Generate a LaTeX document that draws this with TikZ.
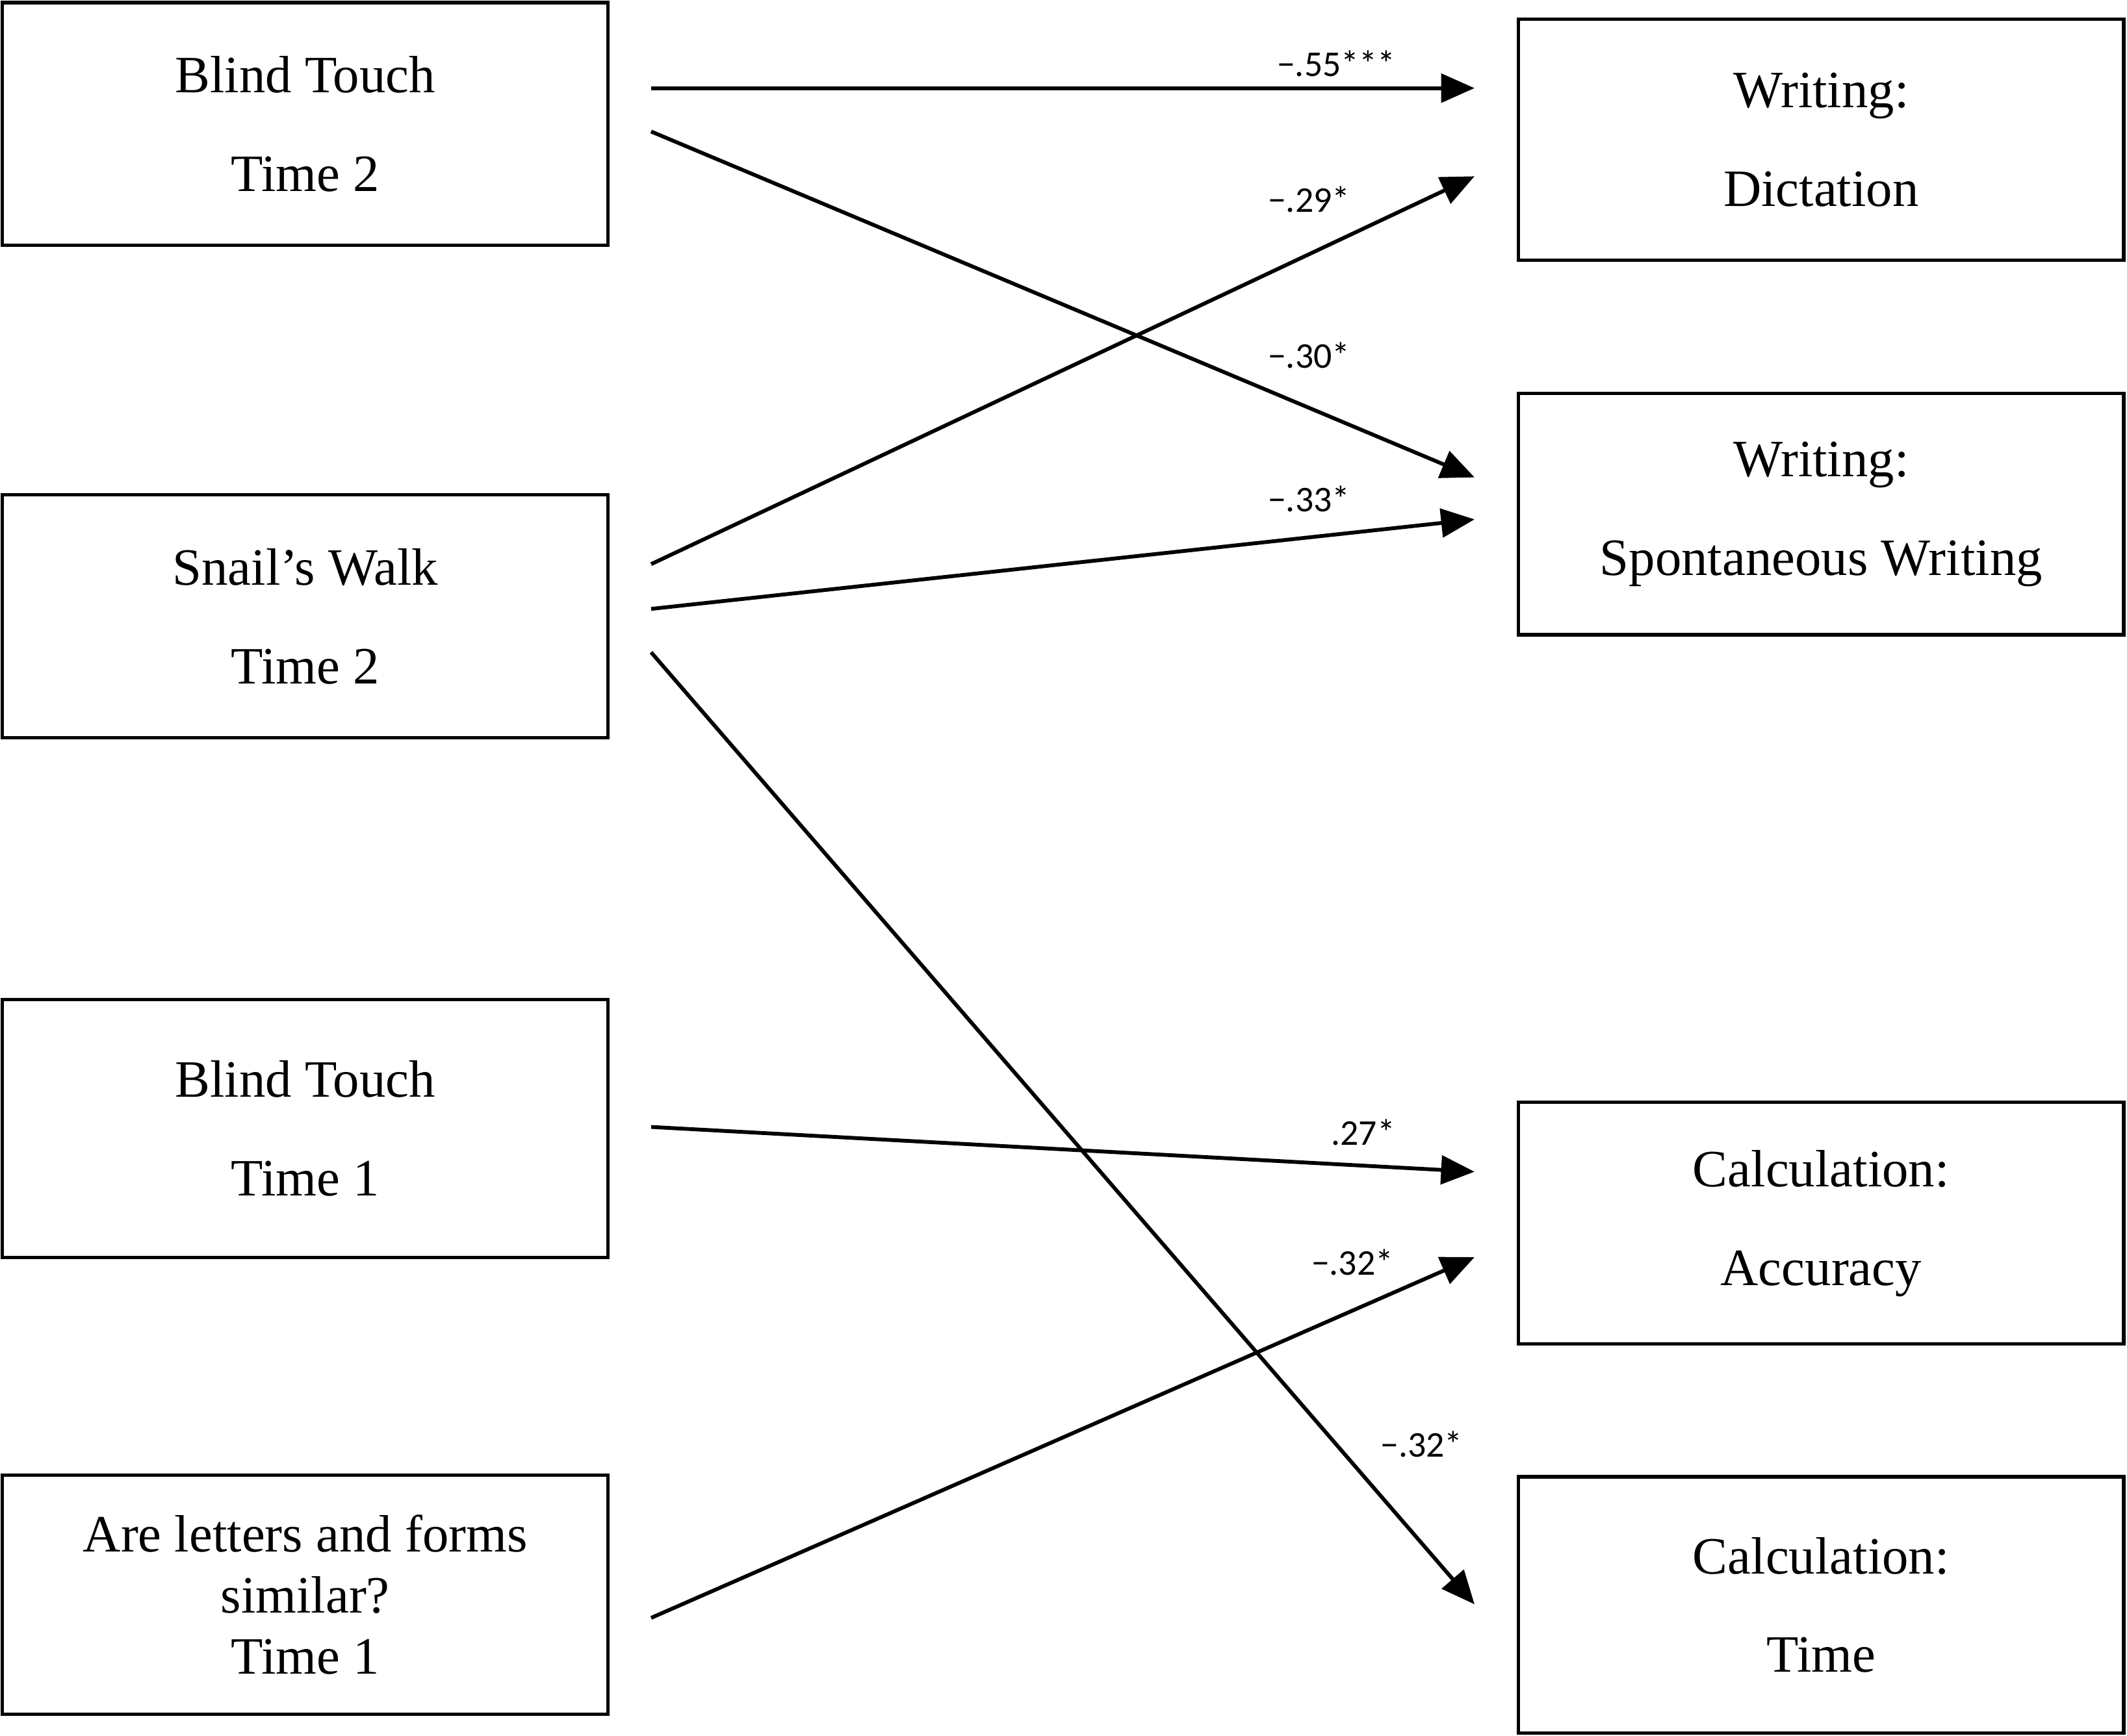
\documentclass[tikz,border=0pt]{standalone}
\usepackage{fontspec}
\setmainfont{Liberation Serif}
\newfontfamily\labfont{Carlito}
\usetikzlibrary{arrows.meta}
\begin{document}
\begin{tikzpicture}[x=0.01cm,y=-0.01cm,
  box/.style={draw, line width=0.7pt, minimum width=4.46cm, align=center,
    font=\fontsize{11}{20.7}\selectfont},
  path/.style={line width=0.8pt, -{Triangle[length=7pt,width=6pt]}},
  coef/.style={font=\labfont\fontsize{7.6}{9}\selectfont}]
\useasboundingbox (0,0) rectangle (1568,1280);
% predictors
\node[box, minimum height=1.79cm] (bt2) at (225,91.5) {Blind Touch\\Time 2};
\node[box, minimum height=1.79cm] (sw2) at (225,454.5) {Snail's Walk\\Time 2};
\node[box, minimum height=1.9cm] (bt1) at (225,832) {Blind Touch\\Time 1};
\node[box, minimum height=1.76cm, font=\fontsize{11}{12.8}\selectfont] (lf1) at (225,1176) {Are letters and forms\\similar?\\Time 1};
% outcomes
\node[box, minimum height=1.78cm] (dic) at (1342.5,103) {Writing:\\Dictation};
\node[box, minimum height=1.78cm] (spo) at (1342.5,379) {Writing:\\Spontaneous Writing};
\node[box, minimum height=1.78cm] (acc) at (1342.5,902) {Calculation:\\Accuracy};
\node[box, minimum height=1.89cm] (tim) at (1342.5,1183.5) {Calculation:\\Time};
% path end points
\coordinate (a1) at (480,65);   \coordinate (b1) at (1087,65);
\coordinate (a2) at (480,97);   \coordinate (b2) at (1087,352);
\coordinate (a3) at (480,416);  \coordinate (b3) at (1087,130);
\coordinate (a4) at (480,449);  \coordinate (b4) at (1087,383);
\coordinate (a5) at (480,481);  \coordinate (b5) at (1087,1183);
\coordinate (a6) at (480,831);  \coordinate (b6) at (1087,864);
\coordinate (a7) at (480,1193); \coordinate (b7) at (1087,927);
\draw[path] (a1) -- (b1);
\draw[path] (a2) -- (b2);
\draw[path] (a3) -- (b3);
\draw[path] (a4) -- (b4);
\draw[path] (a5) -- (b5);
\draw[path] (a6) -- (b6);
\draw[path] (a7) -- (b7);
\node[coef] (c1) at (985,47) {−.55***};
\node[coef] (c2) at (965,262) {−.30*};
\node[coef] (c3) at (965,147) {−.29*};
\node[coef] (c4) at (965,368) {−.33*};
\node[coef] (c5) at (1048,1065) {−.32*};
\node[coef] (c6) at (1005,835) {.27*};
\node[coef] (c7) at (997,931) {−.32*};
\end{tikzpicture}
\end{document}
